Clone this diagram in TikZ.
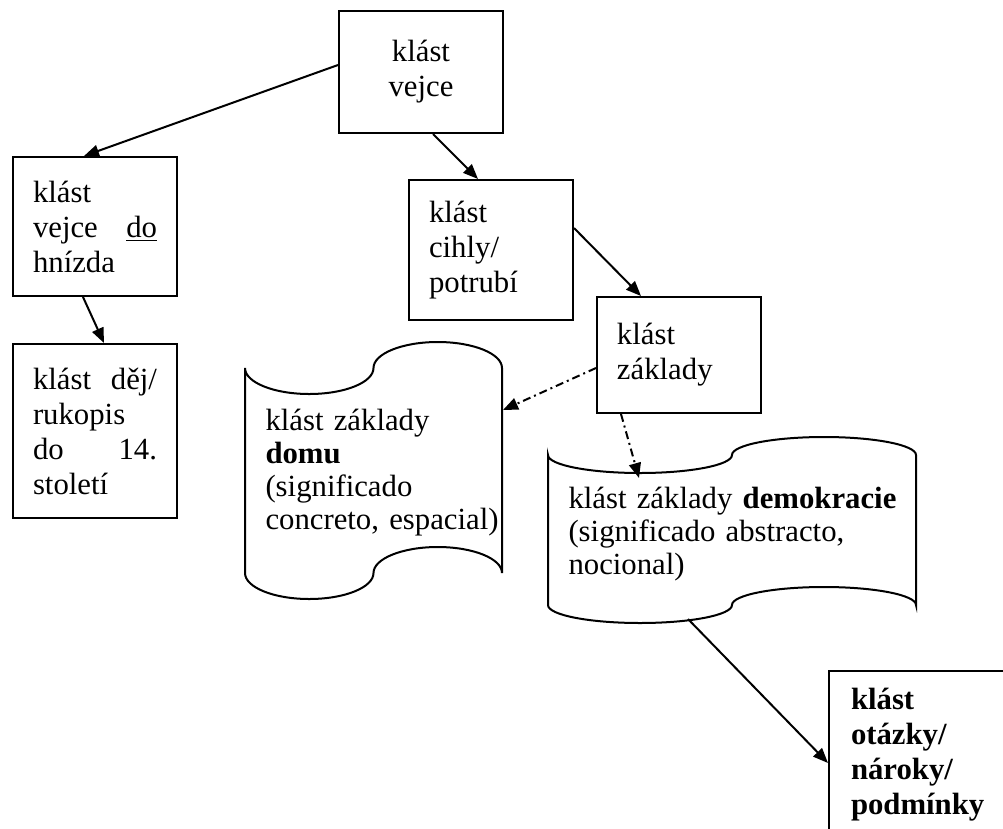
\documentclass[tikz,border=0pt]{standalone}
\usepackage{fontspec}
\setmainfont{Liberation Serif}
\usetikzlibrary{arrows.meta, calc}
\newcommand{\figArrow}{{Triangle[length=6pt,width=4.8pt]}}
% wavy "punched tape" outline: left, top, right, bottom, amplitude
\newcommand{\tapeshape}[5]{%
	\pgfmathsetmacro{\qw}{(#3-#1)/4}
	\pgfmathsetmacro{\kx}{0.5523*\qw}
	\pgfmathsetmacro{\ky}{0.5523*#5}
	\draw[tape] (#1,#2)
		.. controls (#1,#2+\ky) and (#1+\qw-\kx,#2+#5) .. (#1+\qw,#2+#5)
		.. controls (#1+\qw+\kx,#2+#5) and (#1+2*\qw,#2+\ky) .. (#1+2*\qw,#2)
		.. controls (#1+2*\qw,#2-\ky) and (#1+3*\qw-\kx,#2-#5) .. (#1+3*\qw,#2-#5)
		.. controls (#1+3*\qw+\kx,#2-#5) and (#3,#2-\ky) .. (#3,#2)
		-- (#3,#4)
		.. controls (#3,#4-\ky) and (#1+3*\qw+\kx,#4-#5) .. (#1+3*\qw,#4-#5)
		.. controls (#1+3*\qw-\kx,#4-#5) and (#1+2*\qw,#4-\ky) .. (#1+2*\qw,#4)
		.. controls (#1+2*\qw,#4+\ky) and (#1+\qw+\kx,#4+#5) .. (#1+\qw,#4+#5)
		.. controls (#1+\qw-\kx,#4+#5) and (#1,#4+\ky) .. (#1,#4)
		-- cycle;}

\begin{document}
\begin{tikzpicture}[x=0.4pt, y=-0.4pt, font=\fontsize{12.3}{14}\selectfont,
	box/.style={draw, line width=0.8pt, anchor=north west, inner xsep=8pt, inner ysep=1pt, text width=49.6pt},
	tape/.style={draw, line width=0.8pt},
	tapetext/.style={inner sep=0pt, anchor=base west, align=left, font=\fontsize{12.3}{13.2}\selectfont},
	arr/.style={line width=0.8pt, -\figArrow},
	dashdot/.style={line width=0.8pt, dash pattern=on 3.2pt off 1.6pt on 0.8pt off 1.6pt, -\figArrow}]
	\useasboundingbox (0,0) rectangle (1003,829);
	\fill[white] (0,0) rectangle (1003,829);
	\clip (0,0) rectangle (1003,829);
	
	% boxes
	\node[box, align=center, minimum height=48.8pt] (vejce) at (338,10) {klást\\vejce};
	\node[box, align=justify, minimum height=55.6pt] (hnizda) at (12,156) {klást\linebreak vejce \underline{do}\linebreak hnízda};
	\node[box, align=justify, minimum height=69.6pt] (dej) at (12,343) {klást děj/\linebreak rukopis\linebreak do 14.\linebreak století};
	\node[box, align=left, minimum height=56pt] (cihly) at (408,179) {klást\\cihly/\\potrubí};
	\node[box, align=left, minimum height=46.4pt] (zaklady) at (596,296) {klást\\základy};
	\node[box, align=left, minimum height=67.2pt, inner xsep=8.8pt, text width=55.2pt, font=\fontsize{12.3}{14}\selectfont\bfseries] (otazky) at (828,670) {klást\\otázky/\\nároky/\\podmínky};
	
	% wavy shapes
	\tapeshape{245}{368}{502}{573}{26}
	\node[tapetext, text width=94pt] (domu) at (265,430) {klást základy\\\textbf{domu}\\(significado\\concreto, espacial)};
	\coordinate (domuin) at (503,410);
	
	\tapeshape{548}{455}{916}{605}{18}
	\node[tapetext, text width=134pt] (demokr) at (568,508) {klást základy \textbf{demokracie}\\(significado abstracto,\\nocional)};
	\coordinate (demokrin) at (639,478);
	\coordinate (demokrout) at (688,619);
	
	% connectors
	\draw[arr] ([yshift=2.8pt]vejce.west) -- ([xshift=-4.4pt]hnizda.north);
	\draw[arr] ([xshift=4.8pt]vejce.south) -- ([xshift=-5.2pt]cihly.north);
	\draw[arr] ([yshift=8.8pt]cihly.east) -- ([xshift=-15.2pt]zaklady.north);
	\draw[arr] ([xshift=-4.8pt]hnizda.south) -- ([xshift=3.6pt]dej.north);
	\draw[dashdot] ([yshift=-5.2pt]zaklady.west) -- (domuin);
	\draw[dashdot] ([xshift=-23.2pt]zaklady.south) -- (demokrin);
	\draw[arr] (demokrout) -- ([yshift=-3.2pt]otazky.west);
	
\end{tikzpicture}
\end{document}
